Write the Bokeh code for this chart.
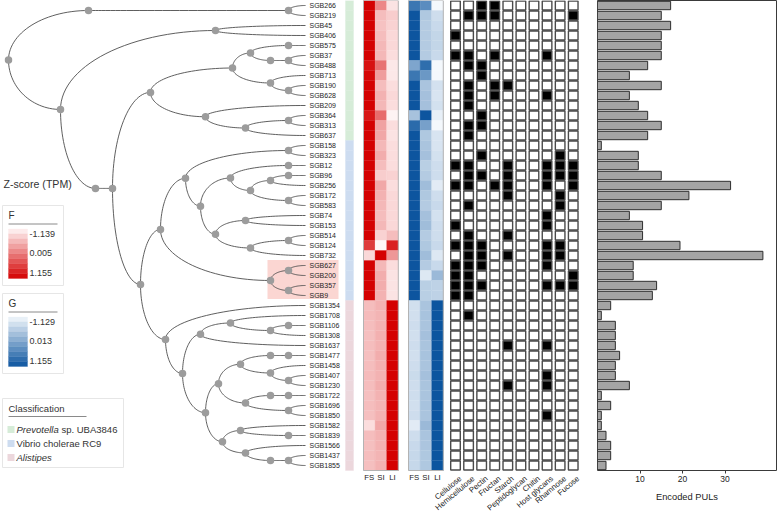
import math
from bokeh.plotting import figure
from bokeh.layouts import row
from bokeh.models import Range1d, FixedTicker
from bokeh.embed import file_html
from bokeh.resources import INLINE
from bokeh.core.properties import value

FONT = value("Liberation Sans")

# ---------------- data ----------------
SGB = ["SGB266", "SGB219", "SGB45", "SGB406", "SGB575", "SGB37", "SGB488", "SGB713", "SGB190", "SGB628",
       "SGB209", "SGB364", "SGB313", "SGB637", "SGB158", "SGB323", "SGB12", "SGB96", "SGB256", "SGB172",
       "SGB583", "SGB74", "SGB153", "SGB514", "SGB124", "SGB732", "SGB627", "SGB200", "SGB357", "SGB9",
       "SGB1354", "SGB1708", "SGB1106", "SGB1308", "SGB1637", "SGB1477", "SGB1458", "SGB1407", "SGB1230", "SGB1722",
       "SGB1696", "SGB1850", "SGB1582", "SGB1839", "SGB1566", "SGB1437", "SGB1855"]

CLASS_NAMES = ["Prevotella sp. UBA3846", "Vibrio cholerae RC9", "Alistipes"]
CLASS_COLORS = ["#d6ecd8", "#cddcf0", "#ecd7dc"]
CLASS_COUNTS = [14, 16, 17]

HEAT_COLS = ["FS", "SI", "LI"]
F_FS = [1.15, 1.15, 1.15, 1.15, 1.15, 1.15, 1.00, 1.10, 1.15, 1.15,
        1.15, 0.95, 1.15, 1.15, 1.15, 1.15, 1.15, 1.15, 1.15, 1.15,
        1.15, 1.15, 1.15, 1.15, 0.60, -0.85, 1.15, 1.15, 1.15, 1.15,
        -0.60, -0.58, -0.60, -0.62, -0.60, -0.62, -0.60, -0.58, -0.60, -0.62,
        -0.60, -0.62, -0.90, -0.60, -0.62, -0.60, -0.62]
F_SI = [-0.10, -0.60, -0.65, -0.60, -0.55, -0.55, 0.10, -0.30, -0.60, -0.50,
        -0.55, 0.15, -0.35, -0.40, -0.55, -0.45, -0.60, -0.75, -0.40, -0.50,
        -0.55, -0.60, -0.55, -0.80, -1.139, 1.155, -0.55, -0.45, -0.45, -0.50,
        -0.50, -0.52, -0.50, -0.48, -0.50, -0.45, -0.48, -0.50, -0.45, -0.50,
        -0.52, -0.50, -0.40, -0.50, -0.50, -0.52, -0.50]
F_LI = [-0.95, -0.75, -0.80, -0.85, -0.85, -0.90, -1.00, -1.00, -0.90, -0.85,
        -0.90, -1.10, -0.90, -0.95, -0.90, -0.90, -0.90, -0.80, -0.90, -0.85,
        -0.85, -0.85, -0.85, -0.60, 0.85, -0.25, -0.90, -0.95, -0.95, -0.95,
        1.155, 1.155, 1.155, 1.155, 1.155, 1.155, 1.155, 1.155, 1.155, 1.155,
        1.155, 1.155, 1.155, 1.155, 1.155, 1.155, 1.155]
G_FS = [0.68, 1.15, 1.15, 1.15, 1.15, 1.15, 0.03, 0.68, 1.15, 1.15,
        1.15, -0.37, 0.85, 1.15, 1.15, 1.15, 1.15, 1.15, 1.15, 1.15,
        1.15, 1.15, 1.15, 1.15, 1.15, 1.15, 1.15, 1.15, 1.15, 1.15,
        -0.78, -0.78, -0.75, -0.78, -0.75, -0.78, -0.75, -0.72, -0.75, -0.75,
        -0.78, -0.75, -0.95, -0.75, -0.70, -0.68, -0.68]
G_SI = [0.38, -0.45, -0.50, -0.50, -0.50, -0.50, 0.81, 0.22, -0.40, -0.35,
        -0.35, 1.15, 0.10, -0.45, -0.40, -0.35, -0.55, -0.50, -0.30, -0.45,
        -0.50, -0.35, -0.30, -0.50, -0.45, -0.30, -0.50, -0.90, -0.55, -0.55,
        -0.40, -0.38, -0.40, -0.35, -0.40, -0.38, -0.40, -0.35, -0.40, -0.40,
        -0.38, -0.40, -0.25, -0.40, -0.42, -0.45, -0.45]
G_LI = [-1.129, -0.75, -0.70, -0.65, -0.65, -0.70, -1.129, -1.129, -0.80, -0.85,
        -0.80, -1.00, -1.129, -0.85, -0.85, -0.80, -0.75, -0.75, -0.95, -0.75,
        -0.70, -0.80, -0.75, -0.75, -0.70, -0.90, -0.70, -0.25, -0.60, -0.60,
        1.155, 1.155, 1.155, 1.155, 1.155, 1.155, 1.155, 1.155, 1.155, 1.155,
        1.155, 1.155, 1.155, 1.155, 1.155, 1.155, 1.155]
F_TICKS = [-1.139, 0.005, 1.155]
G_TICKS = [-1.129, 0.013, 1.155]

PUL_TYPES = ["Cellulose", "Hemicellulose", "Pectin", "Fructan", "Starch",
             "Peptidoglycan", "Chitin", "Host glycans", "Rhamnose", "Fucose"]
PUL_PRESENCE = ["0011000000", "0111000001", "0000000000", "1000000000", "0000000000",
                "1101000100", "0110000000", "0010000000", "0101100000", "0101000100",
                "0100000000", "0010000000", "0110000000", "0100000000", "0000000000",
                "0010000010", "1100100111", "0110100111", "1101100101", "0000100010",
                "0100000010", "0000000100", "1000000100", "0100100000", "1110000110",
                "0110100110", "1110000100", "1100000001", "1110000111", "1100000000",
                "0000000000", "0100000000", "0000000000", "0000000000", "0000100100",
                "0000000000", "0000000000", "0000000100", "0000100100", "0000000000",
                "0000000000", "0000000100", "0000000000", "0000000000", "0000000000",
                "0000000000", "0000000000"]

ENCODED_PULS = [17.2, 15.0, 17.2, 15.0, 15.0, 15.0, 11.8, 7.5, 15.0, 7.5,
                9.6, 11.8, 15.0, 11.8, 0.9, 9.6, 9.6, 15.0, 31.3, 21.5,
                15.0, 7.5, 10.6, 10.6, 19.4, 38.9, 8.4, 8.4, 13.9, 12.9,
                3.1, 0.9, 4.2, 4.2, 4.2, 5.2, 4.2, 4.2, 7.5, 0.9,
                3.1, 0.9, 0.9, 2.0, 3.1, 3.1, 2.0]
BAR_TICKS = [10, 20, 30]

HIGHLIGHT = ["SGB627", "SGB200", "SGB357", "SGB9"]


def N(bl, *kids):
    return (bl, list(kids))


# tree: internal branch lengths; tips are aligned
TREE = N(0,
    N(80, N(200, "SGB266", "SGB219")),
    N(52,
        N(155, "SGB45", "SGB406"),
        N(35,
            N(17,
                N(38,
                    N(82,
                        N(18, N(38, "SGB575"), N(20, N(18, "SGB37", "SGB488"))),
                        N(38, "SGB713", N(18, "SGB190", "SGB628"))),
                    N(55, "SGB209", N(40, N(43, "SGB364", "SGB313"), "SGB637"))),
                N(28,
                    N(20,
                        N(25,
                            N(103, "SGB158", "SGB323"),
                            N(15,
                                N(30, N(58, "SGB12"),
                                  N(20, N(20, N(18, "SGB96"), "SGB256"), N(38, "SGB172", "SGB583"))),
                                N(15, N(30, "SGB74", "SGB153"),
                                  N(35, N(38, "SGB514", "SGB124"), "SGB732")))),
                        N(110, N(18, "SGB627", "SGB200"), N(18, "SGB357", "SGB9"))),
                    N(25,
                        "SGB1354",
                        N(17,
                            N(18, N(30, "SGB1708", N(40, N(18, "SGB1106"), "SGB1308")), "SGB1637"),
                            N(23,
                                N(13,
                                  N(22, N(30, N(18, "SGB1477")),
                                    N(30, "SGB1458", N(18, "SGB1407", "SGB1230"))),
                                  N(27, N(25, N(18, "SGB1722")), N(43, "SGB1696", "SGB1850"))),
                                N(17,
                                  N(18, "SGB1582", N(48, "SGB1839")),
                                  N(23, "SGB1566", N(25, N(18, "SGB1437", "SGB1855"))))))))))))

# ---------------- layout constants ----------------
TIP = 297
ROW_PX = 10.0
FRAME_H = 517
YB = -0.5 + FRAME_H / ROW_PX
MAIN_W = 597
BAR_W = 179
F_LEFT, G_LEFT, HW = 355, 400, 11.6
PUL_X0, PUL_DX = 447, 13.08


def X(px):
    return px - 8


def Y(py):
    return (py - 5) / 10


def ramp(c0, c1, t):
    a = [int(c0[i:i + 2], 16) for i in (1, 3, 5)]
    b = [int(c1[i:i + 2], 16) for i in (1, 3, 5)]
    return "#%02x%02x%02x" % tuple(int(round(a[k] + (b[k] - a[k]) * t)) for k in range(3))


def cmap(v, lo, hi, c0, c1):
    t = min(1.0, max(0.0, (v - lo) / (hi - lo)))
    return ramp(c0, c1, t)


RED0, RED1 = "#fff7f7", "#d40000"
BLU0, BLU1 = "#f4f8fc", "#0c559f"

# ---------------- tree layout ----------------
row_of = {s: i for i, s in enumerate(SGB)}
seg_x, seg_y, node_x, node_y = [], [], [], []
clade_x = {}


def lay(node, depth):
    if isinstance(node, str):
        return TIP, row_of[node], {node}
    bl, kids = node
    x = depth + bl
    pos = [lay(k, x) for k in kids]
    y = (pos[0][1] + pos[-1][1]) / 2.0
    leaves = set()
    ts = [i / 30 * math.pi / 2 for i in range(31)]
    for cx, cy, lv in pos:
        leaves |= lv
        seg_x.append([cx - (cx - x) * math.cos(t) for t in ts])
        seg_y.append([y + (cy - y) * math.sin(t) for t in ts])
    node_x.append(x)
    node_y.append(y)
    clade_x[frozenset(leaves)] = x
    return x, y, leaves


lay(TREE, 0)

# ---------------- main figure ----------------
pm = figure(frame_width=MAIN_W, frame_height=FRAME_H, x_range=Range1d(-8, -8 + MAIN_W),
            y_range=Range1d(YB, -0.5), toolbar_location=None, output_backend="svg",
            x_axis_location=None, y_axis_location=None, min_border=0, outline_line_color=None)
pm.grid.visible = False

# highlight clade
hrows = [row_of[s] for s in HIGHLIGHT]
hx = clade_x.get(frozenset(HIGHLIGHT), 262)
pm.quad(left=[hx - 3], right=[TIP + 33], top=[min(hrows) - 0.55], bottom=[max(hrows) + 0.35],
        fill_color="#fbd6d2", line_color=None)

pm.multi_line(xs=seg_x, ys=seg_y, line_color="#4d4d4d", line_width=0.9)
pm.scatter(node_x, node_y, size=7.5, fill_color="#9c9c9c", line_color=None)

rows = list(range(len(SGB)))
pm.text(x=[TIP + 4] * len(SGB), y=rows, text=SGB, text_font=FONT, text_font_size="7px",
        text_baseline="middle", text_align="left", text_color="#1e1e1e")

# classification strip
cls_col = []
for c, n in zip(CLASS_COLORS, CLASS_COUNTS):
    cls_col += [c] * n
pm.rect(x=[TIP + 44] * len(SGB), y=rows, width=8, height=1, fill_color=cls_col, line_color=cls_col,
        line_width=0.3)

# heatmaps
for left, cols, lo, hi, c0, c1 in [(F_LEFT, [F_FS, F_SI, F_LI], F_TICKS[0], F_TICKS[-1], RED0, RED1),
                                   (G_LEFT, [G_FS, G_SI, G_LI], G_TICKS[0], G_TICKS[-1], BLU0, BLU1)]:
    xs, ys, cs = [], [], []
    for j, vals in enumerate(cols):
        for i, v in enumerate(vals):
            xs.append(left + (j + 0.5) * HW)
            ys.append(i)
            cs.append(cmap(v, lo, hi, c0, c1))
    pm.rect(x=xs, y=ys, width=HW, height=1, fill_color=cs, line_color=cs, line_width=0.3)
    pm.quad(left=[left], right=[left + 3 * HW], top=[-0.5], bottom=[len(SGB) - 0.5],
            fill_color=None, line_color="#b3b3b3", line_width=1)
    pm.text(x=[left + (j + 0.5) * HW for j in range(3)], y=[Y(477)] * 3, text=HEAT_COLS,
            text_font=FONT, text_font_size="7.8px", text_align="center", text_baseline="middle",
            text_color="#222222")

# PUL presence matrix
bx, by, bc = [], [], []
for i, s in enumerate(PUL_PRESENCE):
    for k, ch in enumerate(s):
        bx.append(PUL_X0 + k * PUL_DX)
        by.append(i)
        bc.append("#000000" if ch == "1" else "#ffffff")
pm.rect(x=bx, y=by, width=9.6, height=0.9, fill_color=bc, line_color="#4a4a4a", line_width=1.4)
pm.text(x=[PUL_X0 + k * PUL_DX + 5 for k in range(len(PUL_TYPES))], y=[Y(477)] * len(PUL_TYPES),
        text=PUL_TYPES, angle=0.7, text_font=FONT, text_font_size="7.8px",
        text_align="right", text_baseline="middle", text_color="#222222")

# legends
pm.text(x=[X(3)], y=[Y(183)], text=["Z-score (TPM)"], text_font=FONT, text_font_size="10.6px",
        text_baseline="middle", text_color="#333333")


def grad_legend(title, top, ticks, c0, c1):
    pm.quad(left=[X(2)], right=[X(63)], top=[Y(top)], bottom=[Y(top + 80)], fill_color="white",
            line_color="#e6e6e6", line_width=1)
    pm.text(x=[X(8)], y=[Y(top + 10)], text=[title], text_font=FONT, text_font_size="10px",
            text_baseline="middle", text_color="#333333")
    pm.segment(x0=[X(8)], x1=[X(57)], y0=[Y(top + 18.5)], y1=[Y(top + 18.5)], line_color="#8a8a8a",
               line_width=1)
    n = 10
    g0, g1 = top + 23.5, top + 73
    step = (g1 - g0) / n
    for k in range(n):
        col = ramp(c0, c1, (k + 0.5) / n)
        pm.quad(left=[X(8)], right=[X(27)], top=[Y(g0 + k * step)], bottom=[Y(g0 + (k + 1) * step)],
                fill_color=col, line_color=col, line_width=0.3)
    lo, hi = ticks[0], ticks[-1]
    pm.text(x=[X(29)] * len(ticks), y=[Y(top + 28.5 + (v - lo) / (hi - lo) * 38.5) for v in ticks],
            text=["%.3f" % v for v in ticks], text_font=FONT, text_font_size="9px",
            text_baseline="middle", text_color="#333333")


grad_legend("F", 205, F_TICKS, RED0, RED1)
grad_legend("G", 293, G_TICKS, BLU0, BLU1)

pm.quad(left=[X(2)], right=[X(123)], top=[Y(398)], bottom=[Y(467)], fill_color="white",
        line_color="#e6e6e6", line_width=1)
pm.text(x=[X(8)], y=[Y(408)], text=["Classification"], text_font=FONT, text_font_size="9.5px",
        text_baseline="middle", text_color="#333333")
pm.segment(x0=[X(8)], x1=[X(86)], y0=[Y(416)], y1=[Y(416)], line_color="#8a8a8a", line_width=1)
item_y = [429, 443, 457]
for yy, c in zip(item_y, CLASS_COLORS):
    pm.quad(left=[X(7)], right=[X(14)], top=[Y(yy - 3.5)], bottom=[Y(yy + 3.5)], fill_color=c,
            line_color=None)
genus, rest = CLASS_NAMES[0].split(" ", 1)
pm.text(x=[X(16)], y=[Y(item_y[0])], text=[genus], text_font=FONT, text_font_size="9.5px",
        text_font_style="italic", text_baseline="middle", text_color="#333333")
pm.text(x=[X(16) + 4.446 * 9.5 + 2.7], y=[Y(item_y[0])], text=[rest], text_font=FONT,
        text_font_size="9.5px", text_baseline="middle", text_color="#333333")
pm.text(x=[X(16)], y=[Y(item_y[1])], text=[CLASS_NAMES[1]], text_font=FONT, text_font_size="9.5px",
        text_baseline="middle", text_color="#333333")
pm.text(x=[X(16)], y=[Y(item_y[2])], text=[CLASS_NAMES[2]], text_font=FONT, text_font_size="9.5px",
        text_font_style="italic", text_baseline="middle", text_color="#333333")

# ---------------- bar chart ----------------
pb = figure(frame_width=BAR_W, frame_height=470, x_range=Range1d(0, 42.1), y_range=Range1d(46.5, -0.5),
            toolbar_location=None, output_backend="svg", y_axis_location=None,
            min_border_left=0, min_border_right=1, min_border_top=0, min_border_bottom=47)
pb.grid.visible = False
pb.hbar(y=rows, left=0, right=ENCODED_PULS, height=0.84, fill_color="#a4a4a4", line_color="#2e2e2e",
        line_width=1)
pb.outline_line_color = "#3a3a3a"
pb.outline_line_width = 1
pb.xaxis.ticker = FixedTicker(ticks=BAR_TICKS)
pb.xaxis.axis_line_color = None
pb.xaxis.major_tick_line_color = "#3a3a3a"
pb.xaxis.major_tick_out = 3
pb.xaxis.major_tick_in = 0
pb.xaxis.minor_tick_line_color = None
pb.xaxis.major_label_text_font = "Liberation Sans"
pb.xaxis.major_label_text_font_size = "8.5px"
pb.xaxis.major_label_text_color = "#222222"
pb.xaxis.major_label_standoff = 2
pb.xaxis.axis_label = "Encoded PULs"
pb.xaxis.axis_label_text_font = "Liberation Sans"
pb.xaxis.axis_label_text_font_size = "9.3px"
pb.xaxis.axis_label_text_font_style = "normal"
pb.xaxis.axis_label_text_color = "#222222"
pb.xaxis.axis_label_standoff = 7

layout = row(pm, pb)
open("out.html", "w").write(file_html(layout, INLINE))
